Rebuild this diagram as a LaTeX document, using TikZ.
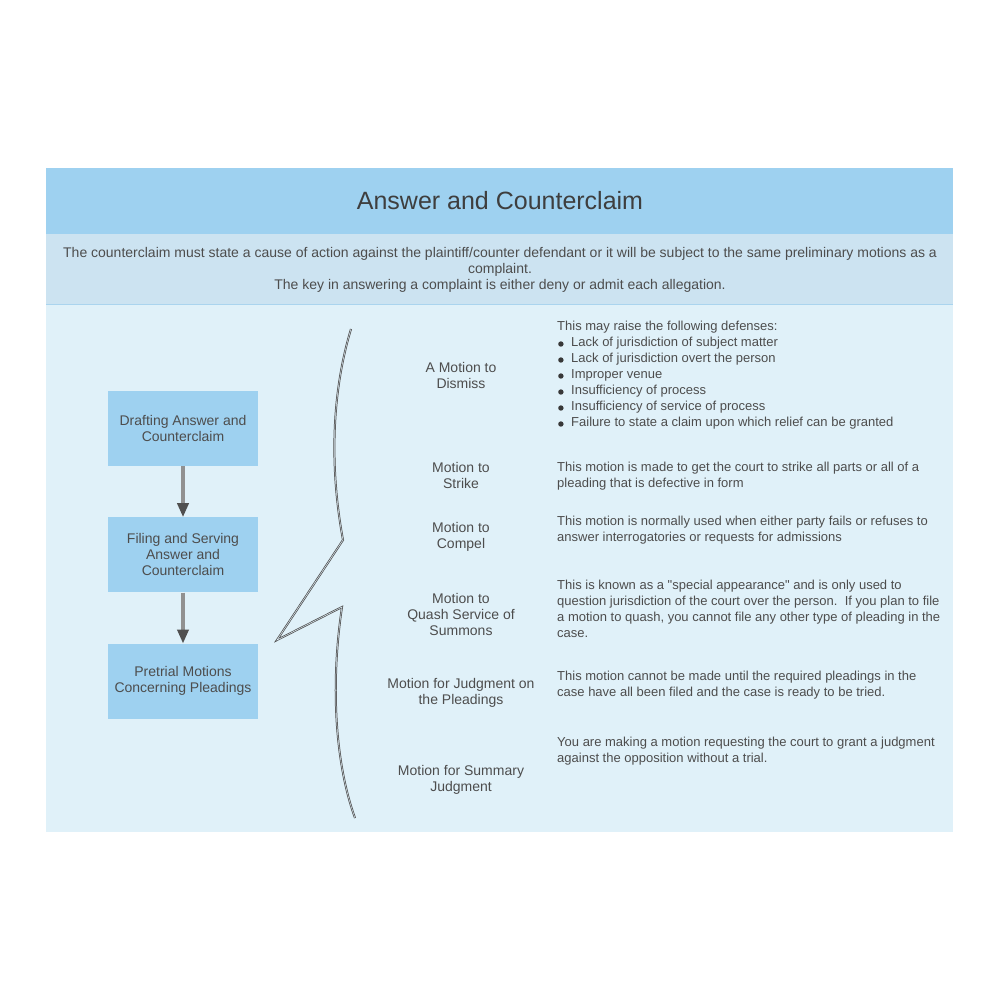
\documentclass[tikz,border=0pt]{standalone}
\usepackage{fontspec}
\setmainfont{Liberation Sans}
\newfontfamily\plainquote{Liberation Sans}
\usetikzlibrary{positioning, arrows.meta}
\definecolor{headblue}{RGB}{158,209,240}
\definecolor{subblue}{RGB}{204,227,241}
\definecolor{bodyblue}{RGB}{224,241,249}
\definecolor{lineblue}{RGB}{170,212,238}
\definecolor{textgray}{RGB}{77,77,77}
\definecolor{shaftgray}{RGB}{145,145,145}
\definecolor{tipgray}{RGB}{80,80,80}
\newcommand{\bul}{\hspace*{1pt}\makebox[13pt][l]{\tikz[baseline=0pt]\fill[tipgray!70!black] (2.8pt,2.6pt) circle (2.7pt);}}
\newcommand{\dq}{{\plainquote"}}
\tikzset{
    stage/.style={
        rectangle,
        fill=headblue,
        minimum width=150pt,
        minimum height=75pt,
        align=center,
        text=textgray,
        font=\fontsize{14}{16}\selectfont,
    },
    motion/.style={
        align=center,
        text=textgray,
        font=\fontsize{14}{16}\selectfont,
    },
    detail/.style={
        anchor=north west,
        inner sep=0pt,
        align=left,
        text=textgray,
        font=\fontsize{13}{16}\selectfont,
    },
}

\begin{document}
\begin{tikzpicture}[x=1pt,y=-1pt,node distance=51pt and 51pt,>={Triangle[length=14pt,width=11pt,color=tipgray]}]
          \useasboundingbox (0,0) rectangle (1000,1000);
          % bands
          \fill[headblue] (46,168) rectangle (953,234);
          \fill[subblue] (46,234) rectangle (953,304);
          \fill[bodyblue] (46,304) rectangle (953,832);
          \draw[lineblue] (46,304) -- (953,304);

          \node [text=textgray!80!black, font=\fontsize{25}{28}\selectfont] (title) at (500,201) {Answer and Counterclaim};
          \node [motion] (intro) at (500,270) {The counterclaim must state a cause of action against the plaintiff/counter defendant or it will be subject to the same preliminary motions as a\\complaint.\\The key in answering a complaint is either deny or admit each allegation.};

          % stages
          \node [stage] (draft) at (183,428.5) {Drafting Answer and\\Counterclaim};
          \node [stage] (file) [below=of draft] {Filing and Serving\\Answer and\\Counterclaim};
          \node [stage] (pretrial) [below=of file] {Pretrial Motions\\Concerning Pleadings};

          \draw[->, shaftgray, line width=3.5pt] (draft) -- (file);
          \draw[->, shaftgray, line width=3.5pt] (file) -- (pretrial);

          % brace
          \draw[tipgray, line width=2pt] (351,329) .. controls (331,395) and (330,470) .. (343,540)
              -- (277,640) -- (342,607) .. controls (331,680) and (334,760) .. (355,818);
          \draw[subblue!60!white, line width=0.5pt] (351,329) .. controls (331,395) and (330,470) .. (343,540)
              -- (277,640) -- (342,607) .. controls (331,680) and (334,760) .. (355,818);

          % motions
          \node [motion] (dismiss) at (461,375) {A Motion to\\Dismiss};
          \node [motion] (strike) at (461,475) {Motion to\\Strike};
          \node [motion] (compel) at (461,537) {Motion to\\Compel};
          \node [motion] (quash) at (461,614) {Motion to\\Quash Service of\\Summons};
          \node [motion] (judgment) at (461,693) {Motion for Judgment on\\the Pleadings};
          \node [motion] (summary) at (461,780) {Motion for Summary\\Judgment};

          % details
          \node [detail] (dismiss-text) at (557,321) {This may raise the following defenses:\\
              \bul Lack of jurisdiction of subject matter\\
              \bul Lack of jurisdiction overt the person\\
              \bul Improper venue\\
              \bul Insufficiency of process\\
              \bul Insufficiency of service of process\\
              \bul Failure to state a claim upon which relief can be granted};
          \node [detail] (strike-text) at (557,462) {This motion is made to get the court to strike all parts or all of a\\pleading that is defective in form};
          \node [detail] (compel-text) at (557,516) {This motion is normally used when either party fails or refuses to\\answer interrogatories or requests for admissions};
          \node [detail] (quash-text) at (557,580) {This is known as a \dq special appearance\dq{} and is only used to\\question jurisdiction of the court over the person.\ \ If you plan to file\\a motion to quash, you cannot file any other type of pleading in the\\case.};
          \node [detail] (judgment-text) at (557,671) {This motion cannot be made until the required pleadings in the\\case have all been filed and the case is ready to be tried.};
          \node [detail] (summary-text) at (557,737) {You are making a motion requesting the court to grant a judgment\\against the opposition without a trial.};
        \end{tikzpicture}
\end{document}
